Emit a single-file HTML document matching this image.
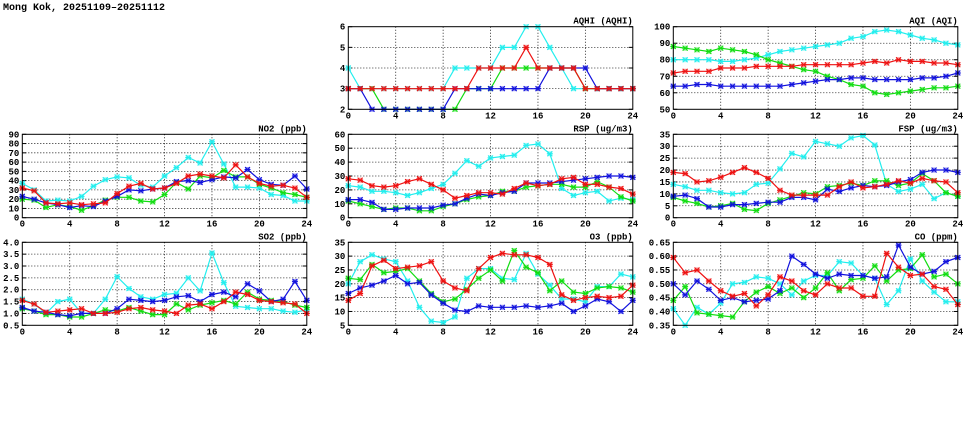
<!DOCTYPE html>
<html><head><meta charset="utf-8"><style>
html,body{margin:0;padding:0;background:#fff;width:975px;height:447px;overflow:hidden}
svg text{font-family:"Liberation Mono","DejaVu Sans Mono",monospace;font-weight:bold;font-size:9px;fill:#000}
</style></head><body>
<svg id="s" width="975" height="447" xmlns="http://www.w3.org/2000/svg">
<text x="3" y="10" style="font-size:10px">Mong Kok, 20251109–20251112</text>
</svg>
<script>
const C={c:"#22eeee",r:"#ee1111",g:"#11dd11",b:"#1111dd"};
const P=[
{t:"AQHI (AQHI)",x:348.3,y:26.7,h:82.6,min:2,max:6,step:1,fmt:v=>v,
 d:{c:[4,3,3,3,3,3,3,3,3,4,4,4,4,5,5,6,6,5,4,3,3,3,3,3,3],
 g:[3,3,3,2,2,2,2,2,2,2,3,3,3,4,4,4,4,4,4,4,3,3,3,3,3],
 b:[3,3,2,2,2,2,2,2,2,3,3,3,3,3,3,3,3,4,4,4,4,3,3,3,3],
 r:[3,3,3,3,3,3,3,3,3,3,3,4,4,4,4,5,4,4,4,4,3,3,3,3,3]}},
{t:"AQI (AQI)",x:673.3,y:26.7,h:82.6,min:50,max:100,step:10,fmt:v=>v,
 d:{c:[80,80,80,80,79,79,80,81,83,85,86,87,88,89,90,93,94,97,98,97,95,93,92,90,89],
 g:[88,87,86,85,87,86,85,83,80,78,76,74,73,70,68,65,64,60,59,60,61,62,63,63,64],
 b:[64,64,65,65,64,64,64,64,64,64,65,66,67,68,68,69,69,68,68,68,68,69,69,70,72],
 r:[72,73,73,73,75,75,75,76,76,76,76,77,77,77,77,77,78,79,78,80,79,79,78,78,77]}},
{t:"NO2 (ppb)",x:22.3,y:134.3,h:83.4,min:0,max:90,step:10,fmt:v=>v,
 d:{c:[37,30,18,19,18,23,34,41,44,43,35,33,45,54,65,59,82,58,33,33,32,25,24,18,18],
 g:[20,19,11,14,12,8,13,19,22,22,18,17,25,38,31,45,43,51,44,44,36,32,27,25,22],
 b:[23,20,16,14,11,13,12,18,23,30,29,31,32,39,40,38,41,44,43,52,41,36,35,45,31],
 r:[32,29,16,15,16,14,15,16,26,34,37,31,32,37,45,47,45,43,57,44,37,34,35,32,22]}},
{t:"RSP (ug/m3)",x:348.3,y:134.3,h:83.4,min:0,max:60,step:10,fmt:v=>v,
 d:{c:[23,22,19,19,18,16,18,21,24,32,41,37,43,44,45,52,53,46,21,16,18,19,12,14,13],
 g:[12,10,8,6,7,7,5,5,8,10,13,15,16,19,19,22,23,24,24,22,22,26,22,15,12],
 b:[13,13,11,6,6,7,7,7,9,10,14,17,16,18,19,25,25,25,26,27,28,29,30,30,29],
 r:[28,27,23,22,23,26,28,24,20,14,16,18,18,17,21,25,23,24,28,29,24,24,22,21,17]}},
{t:"FSP (ug/m3)",x:673.3,y:134.3,h:83.4,min:0,max:35,step:5,fmt:v=>v,
 d:{c:[14,13,11.5,11.5,10.5,10,10.5,14,14.5,20.5,27,25.5,32,31,30,33.5,34.5,30.5,14,11,12,14,8,10.5,9],
 g:[8.5,7,6,4.5,5,6,3.5,3,6,7.5,9,10.5,10,13,13.5,14.5,13.5,15.5,15.5,13.5,14.5,18.5,15.5,10.5,9],
 b:[9,9.5,8,4.5,4.5,5.5,5.5,6,6.5,6.5,8.5,8.5,7.5,12,11,12.5,13.5,13,13.5,15,16,19,20,20,19],
 r:[19,18.5,15,15.5,17,19,21,19,16.5,11.5,9.5,9.5,9.5,9.5,13,15,12.5,13,14,15.5,14.5,16.5,15.5,15,10.5]}},
{t:"SO2 (ppb)",x:22.3,y:242.3,h:83,min:0.5,max:4.0,step:0.5,fmt:v=>v.toFixed(1),
 d:{c:[1.6,1.4,1.0,1.5,1.6,1.0,1.0,1.6,2.55,2.05,1.7,1.6,1.8,1.85,2.5,1.95,3.55,2.3,1.3,1.25,1.2,1.2,1.1,1.05,1.15],
 g:[1.2,1.1,0.95,0.95,0.85,0.85,1.0,1.15,1.1,1.25,1.1,0.95,0.95,1.4,1.15,1.35,1.45,1.55,1.4,1.9,1.6,1.55,1.5,1.35,1.25],
 b:[1.25,1.1,1.05,0.95,0.9,1.0,1.0,1.0,1.2,1.6,1.55,1.5,1.55,1.7,1.75,1.5,1.8,1.9,1.7,2.25,1.95,1.5,1.6,2.35,1.55],
 r:[1.55,1.4,1.05,1.1,1.15,1.2,1.0,1.0,1.05,1.2,1.25,1.15,1.1,1.0,1.35,1.4,1.2,1.5,1.9,1.8,1.55,1.5,1.45,1.4,1.0]}},
{t:"O3 (ppb)",x:348.3,y:242.3,h:83,min:5,max:35,step:5,fmt:v=>v,
 d:{c:[20,28,30.5,29,28,21,11.5,6.5,6,8,22,25.5,25.5,22,21.5,31,23.5,19.5,14.5,14.5,13.5,19,19,23.5,22.5],
 g:[22,21.5,27,24,24.5,25.5,21,16.5,13.5,14.5,18,22,25,21,32,26,24,17.5,21,17,16.5,18.5,19,18.5,17],
 b:[16.5,18.5,19.5,21,23,20,20.5,16,13,10.5,10,12,11.5,11.5,11.5,12,11.5,12,13,10,12,14.5,13.5,10,14],
 r:[14,16.5,26.5,28.5,25.5,26,26.5,28,21,18.5,17.5,25.5,29.5,31,30.5,30.5,29.5,27,16,14,15,15.5,15,15.5,19.5]}},
{t:"CO (ppm)",x:673.3,y:242.3,h:83,min:0.35,max:0.65,step:0.05,fmt:v=>v.toFixed(2),
 d:{c:[0.41,0.35,0.415,0.39,0.43,0.50,0.505,0.525,0.52,0.50,0.46,0.51,0.53,0.53,0.58,0.575,0.53,0.52,0.425,0.475,0.59,0.51,0.47,0.435,0.435],
 g:[0.44,0.49,0.395,0.39,0.385,0.38,0.435,0.47,0.49,0.465,0.485,0.45,0.485,0.54,0.475,0.515,0.52,0.565,0.51,0.55,0.555,0.605,0.525,0.535,0.50],
 b:[0.50,0.46,0.51,0.48,0.44,0.45,0.435,0.44,0.445,0.475,0.60,0.57,0.535,0.52,0.535,0.53,0.53,0.52,0.525,0.64,0.56,0.535,0.545,0.58,0.595],
 r:[0.595,0.54,0.55,0.51,0.475,0.455,0.465,0.42,0.46,0.525,0.51,0.475,0.46,0.50,0.485,0.485,0.455,0.455,0.61,0.56,0.53,0.535,0.49,0.48,0.425]}}
];
let o="";const W=284.5;
for(const p of P){
 const X=i=>p.x+i*W/24, Y=v=>p.y+p.h-(v-p.min)/(p.max-p.min)*p.h;
 const n=Math.round((p.max-p.min)/p.step);
 for(let k=0;k<=n;k++){const v=p.min+k*p.step,y=Y(v);
  if(k>0&&k<n)o+=`<line x1="${p.x}" x2="${p.x+W}" y1="${y}" y2="${y}" stroke="#000" stroke-width="0.8" stroke-dasharray="1,2"/>`;
  o+=`<line x1="${p.x}" x2="${p.x+4}" y1="${y}" y2="${y}" stroke="#000"/><line x1="${p.x+W-4}" x2="${p.x+W}" y1="${y}" y2="${y}" stroke="#000"/>`;
  o+=`<text x="${p.x-3}" y="${y+3}" text-anchor="end">${p.fmt(v)}</text>`;}
 for(let h=0;h<=24;h+=4){const x=X(h);
  if(h>0&&h<24)o+=`<line x1="${x}" x2="${x}" y1="${p.y}" y2="${p.y+p.h}" stroke="#000" stroke-width="0.8" stroke-dasharray="1,2"/>`;
  o+=`<text x="${x}" y="${p.y+p.h+9}" text-anchor="middle">${h}</text>`;}
 for(const s of ["c","g","b","r"]){const a=p.d[s];const col=C[s];
  o+=`<polyline fill="none" stroke="${col}" stroke-width="1.2" points="${a.map((v,i)=>X(i).toFixed(1)+","+Y(v).toFixed(1)).join(" ")}"/>`;
  a.forEach((v,i)=>{const x=X(i),y=Y(v);
   o+=`<rect x="${x-2.5}" y="${y-2.5}" width="5" height="5" fill="${col}" opacity="0.45"/><path d="M${x-2.5},${y-2.5}L${x+2.5},${y+2.5}M${x-2.5},${y+2.5}L${x+2.5},${y-2.5}M${x-3},${y}H${x+3}" stroke="${col}" stroke-width="1"/>`;});}
 o+=`<rect x="${p.x}" y="${p.y}" width="${W}" height="${p.h}" fill="none" stroke="#000" stroke-width="1"/>`;
 o+=`<text x="${p.x+W}" y="${p.y-3}" text-anchor="end">${p.t}</text>`;
}
document.getElementById("s").insertAdjacentHTML("beforeend",o);
</script>
</body></html>
